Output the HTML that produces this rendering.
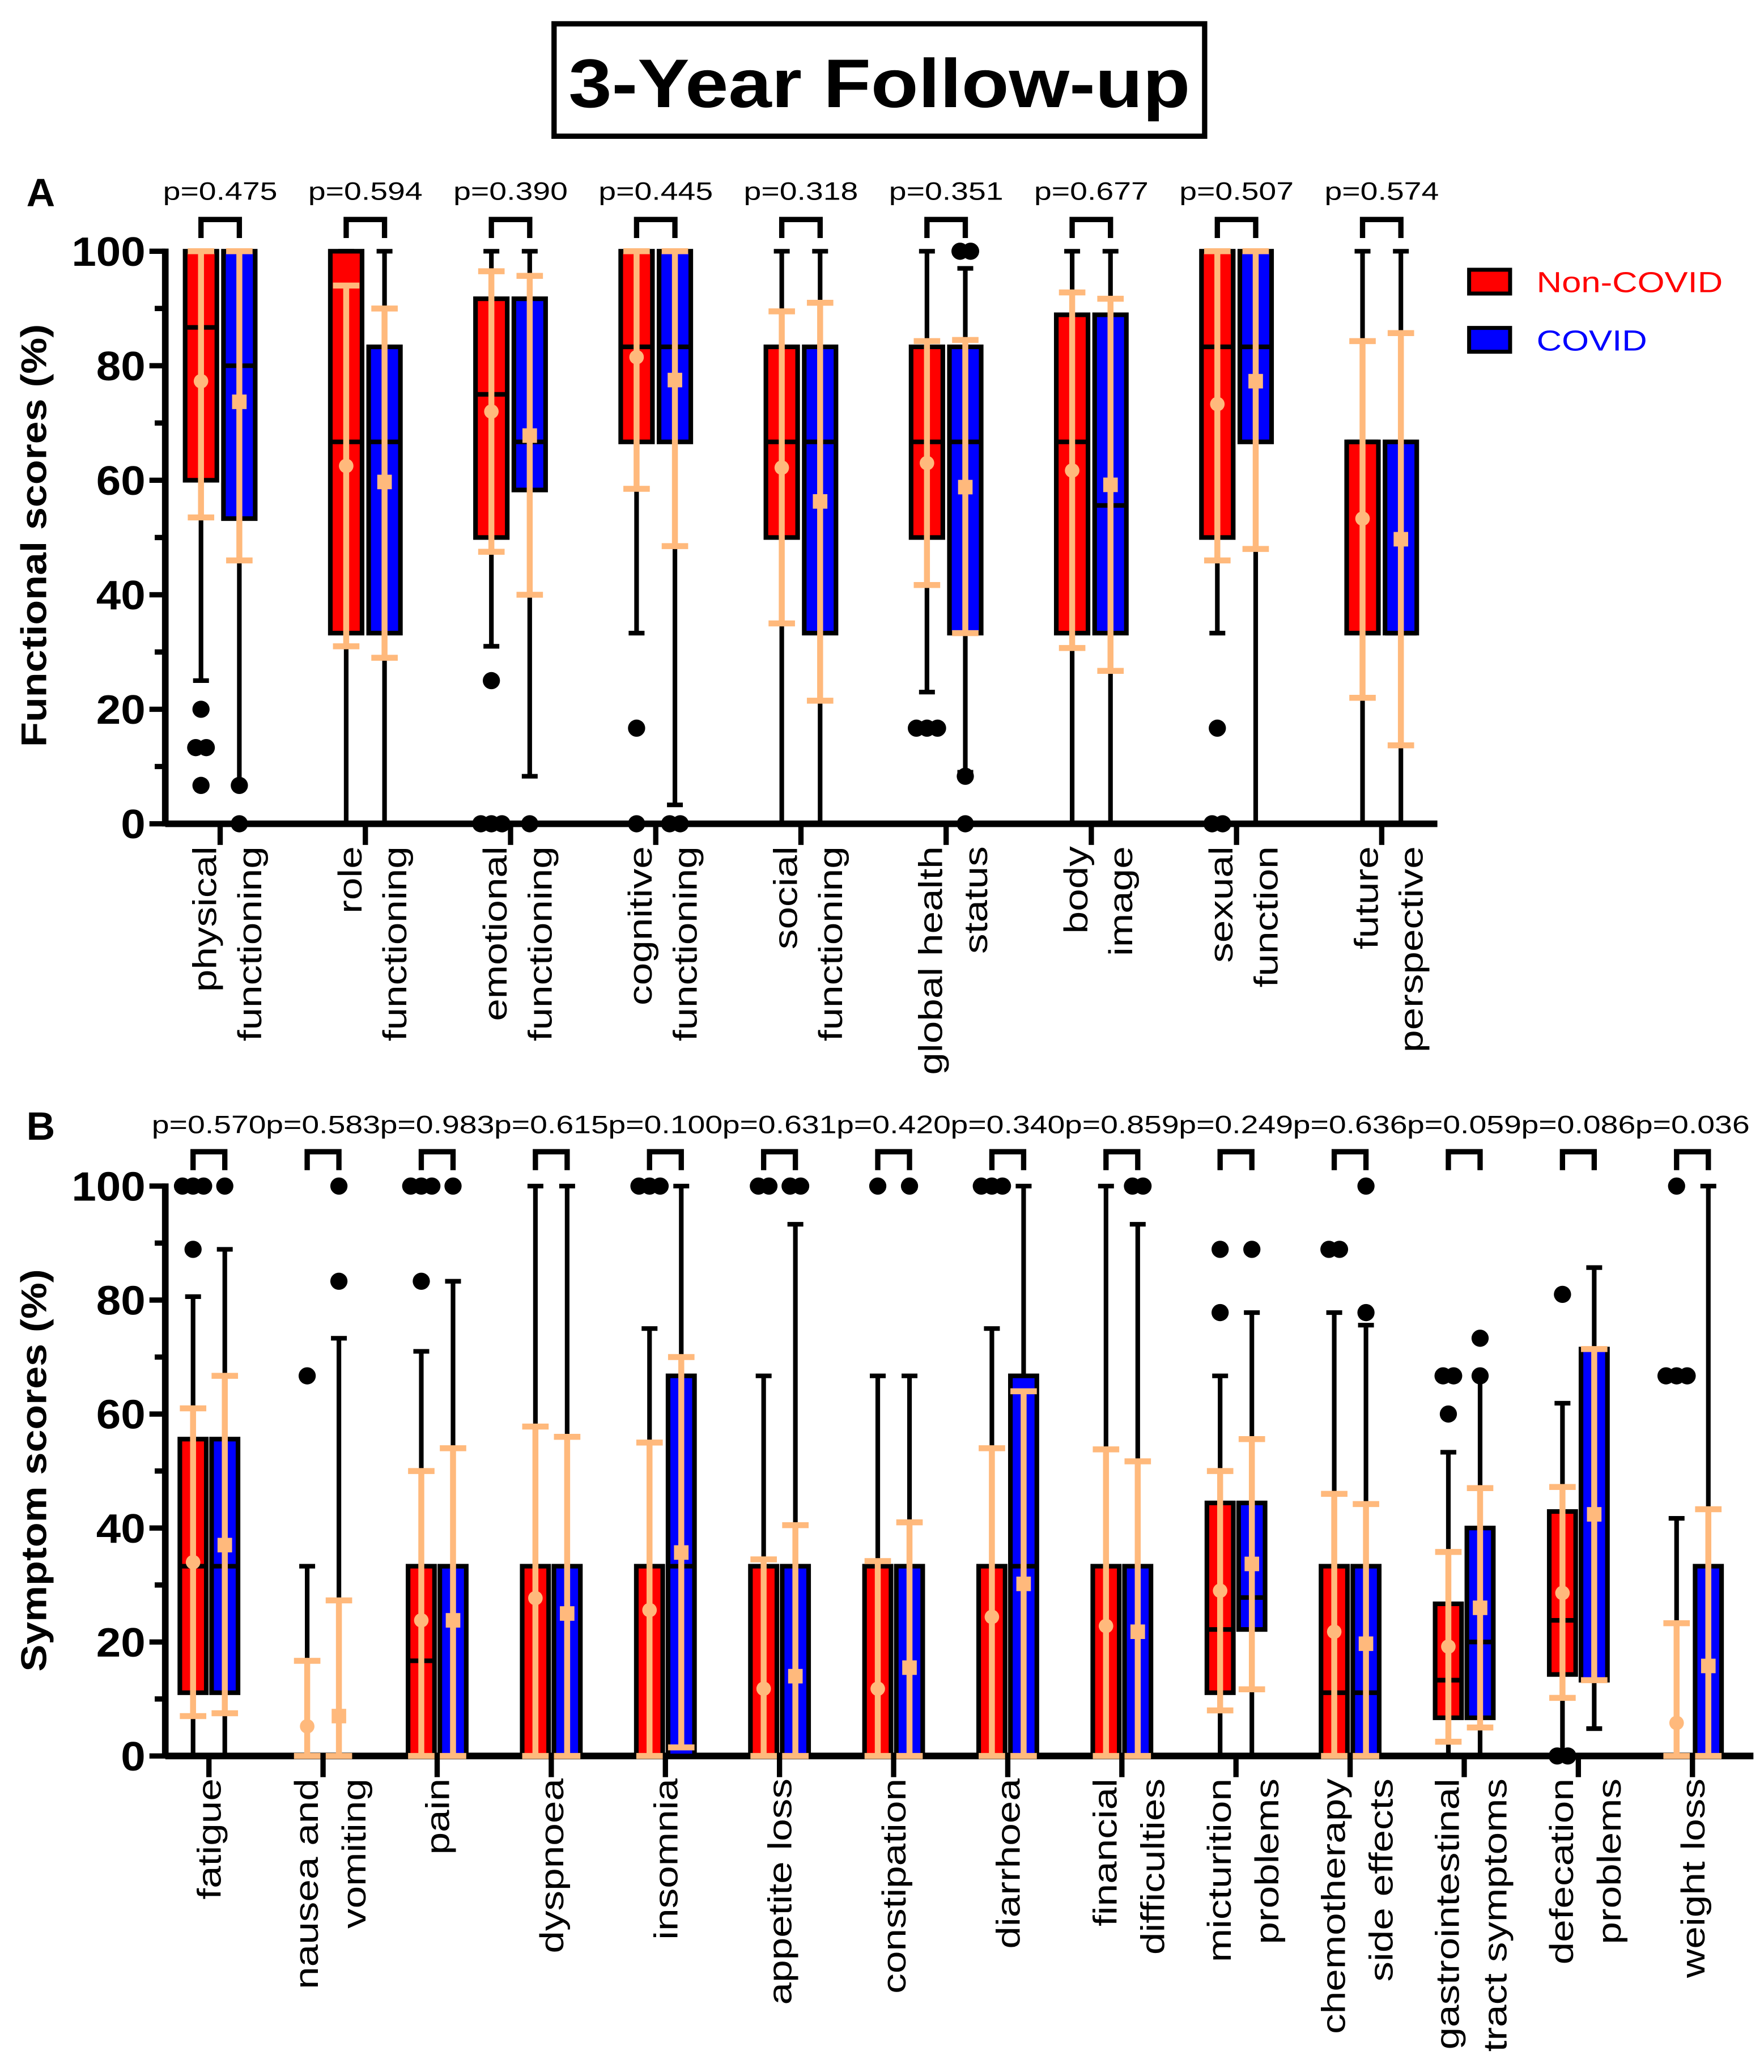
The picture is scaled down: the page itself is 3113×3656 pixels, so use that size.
<!DOCTYPE html>
<html><head><meta charset="utf-8"><style>
html,body{margin:0;padding:0;background:#fff}
svg{display:block}
text{font-family:"Liberation Sans",Arial,sans-serif}
</style></head><body>
<svg id="chart" width="3113" height="3656" viewBox="0 0 1334 1567" preserveAspectRatio="none" xmlns="http://www.w3.org/2000/svg">
<rect x="0" y="0" width="1334" height="1567" fill="#fff"/>
<rect x="419" y="18" width="492" height="85" fill="none" stroke="#000" stroke-width="4"/>
<text transform="translate(665,81) scale(1.13,1)" text-anchor="middle" font-size="52" font-weight="bold">3-Year Follow-up</text>
<text x="20" y="156" font-size="30" font-weight="bold">A</text>
<text x="20" y="862" font-size="30" font-weight="bold">B</text>
<text transform="translate(35,405) rotate(-90) scale(1.14,1)" text-anchor="middle" font-size="27" font-weight="bold">Functional scores (%)</text>
<text transform="translate(35,1112) rotate(-90) scale(1.14,1)" text-anchor="middle" font-size="27" font-weight="bold">Symptom scores (%)</text>
<g>
<rect x="1111" y="204" width="31" height="18" fill="#ff0000" stroke="#000" stroke-width="3"/>
<text transform="translate(1162,221) scale(1.2,1)" font-size="22" fill="#ff0000">Non-COVID</text>
<rect x="1111" y="248" width="31" height="18" fill="#0000ff" stroke="#000" stroke-width="3"/>
<text transform="translate(1162,265) scale(1.2,1)" font-size="22" fill="#0000ff">COVID</text>
</g>
<g id="panelA"></g>
<g id="panelB"></g>
</svg>
<script>
// ---------- Panel A data ----------
const aCategories = [["physical","functioning"],["role","functioning"],["emotional","functioning"],["cognitive","functioning"],["social","functioning"],["global health","status"],["body","image"],["sexual","function"],["future","perspective"]];
const aPValues = ["p=0.475","p=0.594","p=0.390","p=0.445","p=0.318","p=0.351","p=0.677","p=0.507","p=0.574"];
// box: [q1, median, q3, whiskerLow, whiskerHigh]
const aNonCovidBox = [[60,86.7,100,25,100],[33.3,66.7,100,0,100],[50,75,91.7,31,100],[66.7,83.3,100,33.3,100],[50,66.7,83.3,0,100],[50,66.7,83.3,23,100],[33.3,66.7,88.9,0,100],[50,83.3,100,33.3,100],[33.3,66.7,66.7,0,100]];
const aCovidBox = [[53.3,80,100,6.7,100],[33.3,66.7,83.3,0,100],[58.3,66.7,91.7,8.3,100],[66.7,83.3,100,3.3,100],[33.3,66.7,83.3,0,100],[33.3,66.7,83.3,9,97],[33.3,55.6,88.9,0,100],[66.7,83.3,100,0,100],[33.3,33.3,66.7,0,100]];
const aNonCovidMean = [77.3,62.5,72,81.5,62.2,63,61.7,73.3,53.3];
const aNonCovidSd = [[53.5,100],[31,94],[47.5,96.5],[58.5,100],[35,89.5],[41.7,84.3],[30.7,92.8],[46,100],[22,84.3]];
const aCovidMean = [73.7,59.7,67.8,77.5,56.3,58.8,59.2,77.3,49.7];
const aCovidSd = [[46,100],[29,90],[40,95.7],[48.5,100],[21.5,91],[33.3,84.5],[26.7,91.7],[48,100],[13.7,85.7]];
const aNonCovidOutliers = [[20,13.3,13.3,6.7],[],[25,0,0,0],[16.7,0],[],[16.7,16.7,16.7],[],[16.7,0,0],[]];
const aCovidOutliers = [[6.7,0],[],[0],[0,0],[],[100,100,8.3,0],[],[],[]];
const aTicks = ["0","20","40","60","80","100"];

// ---------- Panel B data ----------
const bCategories = [["fatigue"],["nausea and","vomiting"],["pain"],["dyspnoea"],["insomnia"],["appetite loss"],["constipation"],["diarrhoea"],["financial","difficulties"],["micturition","problems"],["chemotherapy","side effects"],["gastrointestinal","tract symptoms"],["defecation","problems"],["weight loss"]];
const bPValues = ["p=0.570","p=0.583","p=0.983","p=0.615","p=0.100","p=0.631","p=0.420","p=0.340","p=0.859","p=0.249","p=0.636","p=0.059","p=0.086","p=0.036"];
const bNonCovidBox = [[11.1,33.3,55.6,0,80.6],[0,0,0,0,33.3],[0,16.7,33.3,0,71],[0,0,33.3,0,100],[0,0,33.3,0,75],[0,0,33.3,0,66.7],[0,0,33.3,0,66.7],[0,0,33.3,0,75],[0,0,33.3,0,100],[11.1,22.2,44.4,0,66.7],[0,11.1,33.3,0,77.8],[6.7,13.3,26.7,0,53.3],[14.3,23.8,42.9,0,61.9],[0,0,0,0,41.7]];
const bCovidBox = [[11.1,33.3,55.6,0,88.9],[0,0,0,0,73.3],[0,33.3,33.3,0,83.3],[0,0,33.3,0,100],[0,33.3,66.7,0,100],[0,0,33.3,0,93.3],[0,0,33.3,0,66.7],[0,33.3,66.7,0,100],[0,0,33.3,0,93.3],[22.2,27.8,44.4,0,77.8],[0,11.1,33.3,0,75.6],[6.7,20,40,0,66.7],[13.3,13.3,71.4,4.8,85.7],[0,0,33.3,0,100]];
const bNonCovidMean = [34,5.2,23.8,27.7,25.6,11.8,11.8,24.4,22.8,29,21.8,19.2,28.6,5.8];
const bNonCovidSd = [[7,61],[0,16.7],[0,50],[0,57.8],[0,55],[0,34.5],[0,34.2],[0,54],[0,53.8],[8,50],[0,46],[2.5,35.8],[10.2,47.2],[0,23.3]];
const bCovidMean = [37,7,23.8,25,35.7,14,15.5,30.2,21.8,33.7,19.7,26,42.4,15.8];
const bCovidSd = [[7.5,66.7],[0,27.3],[0,54],[0,56],[1.5,70],[0,40.5],[0,41],[0,64],[0,51.7],[11.7,55.6],[0,44.2],[5,47],[13.3,71.4],[0,43.3]];
const bNonCovidOutliers = [[100,100,100,88.9],[66.7],[100,100,100,83.3],[],[100,100,100],[100,100],[100],[100,100,100],[],[88.9,77.8],[88.9,88.9],[66.7,66.7,60],[81,0,0],[100,66.7,66.7,66.7]];
const bCovidOutliers = [[100],[100,83.3],[100],[],[],[100,100],[100],[],[100,100],[88.9],[100,77.8],[73.3,66.7],[],[]];
const bTicks = ["0","20","40","60","80","100"];

const NS = "http://www.w3.org/2000/svg";
const ORANGE = "#ffb97c";
function mk(parent, tag, attrs){
  const e = document.createElementNS(NS, tag);
  for (const k in attrs) e.setAttribute(k, attrs[k]);
  parent.appendChild(e);
  return e;
}
function line(g,x1,y1,x2,y2,stroke,w){
  return mk(g,"line",{x1:x1,y1:y1,x2:x2,y2:y2,stroke:stroke,"stroke-width":w});
}

function drawPanel(cfg){
  const g = document.getElementById(cfg.id);
  const y = v => cfg.y0 - (v/100)*(cfg.y0-cfg.y100);
  const xNC = i => cfg.start + i*cfg.step;
  const xC = i => cfg.start + i*cfg.step + cfg.pair;
  const bw = cfg.bw;
  const ya = line(g,cfg.axisX,cfg.y100-2,cfg.axisX,cfg.y0+2,"#000",5);
  
  
  const xa = line(g,cfg.axisX,cfg.y0,cfg.xEnd,cfg.y0,"#000",5);
  
  
  cfg.ticks.forEach((t,k)=>{
    const v = k*20;
    const tk = line(g,cfg.axisX-12,y(v),cfg.axisX,y(v),"#000",4);
    
    
    const tx = mk(g,"text",{transform:`translate(${cfg.axisX-15},${y(v)+11}) scale(1.08,1)`,"text-anchor":"end","font-size":31,"font-weight":"bold"});
    tx.textContent = t;
    
    
    if (k<5){
      const mt = line(g,cfg.axisX-8,y(v+10),cfg.axisX,y(v+10),"#000",4);
      
      
    }
  });
  cfg.cats.forEach((lines,i)=>{
    const cx = (xNC(i)+xC(i))/2;
    const ct = line(g,cx,cfg.y0,cx,cfg.y0+16,"#000",4);
    
    
    const offs = lines.length===1 ? [cfg.single] : cfg.double;
    lines.forEach((s,j)=>{
      const tx = mk(g,"text",{transform:`translate(${cx+offs[j]},${cfg.y0+17}) rotate(-90) scale(1.22,1)`,"text-anchor":"end","font-size":cfg.lblSize});
      tx.textContent = s;
      
      
    });
    const pt = mk(g,"text",{transform:`translate(${cx},${cfg.pY}) scale(1.25,1)`,"text-anchor":"middle","font-size":cfg.pSize});
    pt.textContent = cfg.p[i];
    
    
    const br = mk(g,"path",{d:`M${xNC(i)} ${cfg.brY+14} V${cfg.brY} H${xC(i)} V${cfg.brY+14}`,fill:"none",stroke:"#000","stroke-width":4});
    
    
    drawSeries(g,i,xNC(i),cfg.ncBox[i],cfg.ncMean[i],cfg.ncSd[i],cfg.ncOut[i],"#ff0000","circle",y,bw);
    drawSeries(g,i,xC(i),cfg.cBox[i],cfg.cMean[i],cfg.cSd[i],cfg.cOut[i],"#0000ff","square",y,bw);
  });
}

function drawSeries(g,i,x,box,mean,sd,outs,color,marker,y,bw){
  const [q1,med,q3,wl,wh] = box;
  const w1 = line(g,x,y(wh),x,y(q3),"#000",3.5);
  
  
  const w2 = line(g,x,y(q1),x,y(wl),"#000",3.5);
  
  
  const c1 = line(g,x-6,y(wh),x+6,y(wh),"#000",3.5);
  
  
  const c2 = line(g,x-6,y(wl),x+6,y(wl),"#000",3.5);
  
  
  const bx = mk(g,"rect",{x:x-bw/2,y:y(q3),width:bw,height:Math.max(0,y(q1)-y(q3)),fill:color,stroke:"#000","stroke-width":3.5});
  
  
  const md = line(g,x-bw/2,y(med),x+bw/2,y(med),"#000",3.5);
  
  
  const counts = {};
  outs.forEach(v=>{counts[v]=(counts[v]||0)+1;});
  const seen = {};
  outs.forEach(v=>{
    const n = counts[v]; const k = seen[v]||0; seen[v]=k+1;
    const dx = (k-(n-1)/2)*8;
    const o = mk(g,"circle",{cx:x+dx,cy:y(v),r:6.5,fill:"#000"});
    
    
  });
  const s = line(g,x,y(sd[1]),x,y(sd[0]),ORANGE,4.5);
  
  
  const s1 = line(g,x-10,y(sd[1]),x+10,y(sd[1]),ORANGE,4.5);
  
  
  const s2 = line(g,x-10,y(sd[0]),x+10,y(sd[0]),ORANGE,4.5);
  
  
  let m;
  if (marker==="circle") m = mk(g,"circle",{cx:x,cy:y(mean),r:5.5,fill:ORANGE});
  else m = mk(g,"rect",{x:x-5.5,y:y(mean)-5.5,width:11,height:11,fill:ORANGE});
  
  
}

drawPanel({id:"panelA",axisX:125,xEnd:1087,y0:623,y100:190,start:152,step:109.8,pair:29,bw:24,
  cats:aCategories,p:aPValues,ticks:aTicks,pY:151,pSize:19,brY:166,lblSize:25,single:9,double:[-3,31],
  ncBox:aNonCovidBox,cBox:aCovidBox,ncMean:aNonCovidMean,cMean:aCovidMean,ncSd:aNonCovidSd,cSd:aCovidSd,ncOut:aNonCovidOutliers,cOut:aCovidOutliers});
drawPanel({id:"panelB",axisX:125,xEnd:1326,y0:1328,y100:897,start:146,step:86.3,pair:24,bw:20,
  cats:bCategories,p:bPValues,ticks:bTicks,pY:857,pSize:19,brY:871,lblSize:25,single:9,double:[-4,32],
  ncBox:bNonCovidBox,cBox:bCovidBox,ncMean:bNonCovidMean,cMean:bCovidMean,ncSd:bNonCovidSd,cSd:bCovidSd,ncOut:bNonCovidOutliers,cOut:bCovidOutliers});
</script>
</body></html>
